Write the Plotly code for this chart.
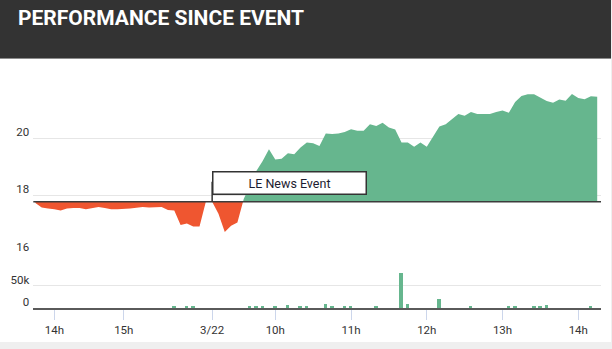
import plotly.graph_objects as go

# ---------------- data ----------------
day1_times = ["03/21 13:45", "03/21 13:50", "03/21 13:55", "03/21 14:00", "03/21 14:05",
              "03/21 14:10", "03/21 14:15", "03/21 14:20", "03/21 14:25", "03/21 14:30",
              "03/21 14:35", "03/21 14:40", "03/21 14:50", "03/21 14:55", "03/21 15:00",
              "03/21 15:05", "03/21 15:10", "03/21 15:15", "03/21 15:20", "03/21 15:25",
              "03/21 15:30", "03/21 15:35", "03/21 15:40", "03/21 15:45", "03/21 15:50",
              "03/21 15:55", "03/21 16:00", "03/21 16:05"]
day2_times = [f"03/22 {(550 + 5 * k) // 60:02d}:{(550 + 5 * k) % 60:02d}" for k in range(62)]
times = day1_times + day2_times

prices = [17.73, 17.58, 17.54, 17.52, 17.47, 17.54, 17.56, 17.56, 17.52, 17.56,
          17.59, 17.56, 17.52, 17.52, 17.52, 17.54, 17.57, 17.59, 17.58, 17.58,
          17.59, 17.49, 17.47, 16.97, 17.02, 16.91, 16.91, 17.78,
          17.78, 17.36, 16.72, 16.94, 17.05, 17.87, 18.33, 18.85, 19.20, 19.61,
          19.25, 19.28, 19.47, 19.43, 19.67, 19.84, 19.82, 19.72, 20.16, 20.14,
          20.16, 20.21, 20.31, 20.25, 20.25, 20.48, 20.42, 20.53, 20.37, 20.30,
          19.84, 19.84, 19.70, 19.84, 19.70, 20.05, 20.40, 20.48, 20.65, 20.84,
          20.78, 20.91, 20.84, 20.84, 20.84, 20.91, 20.96, 20.88, 21.26, 21.47,
          21.53, 21.53, 21.40, 21.29, 21.23, 21.34, 21.30, 21.54, 21.40, 21.35,
          21.46, 21.44]

volume_times = ["03/21 15:40", "03/21 15:50", "03/21 15:55", "03/22 09:40", "03/22 09:45",
                "03/22 09:50", "03/22 10:00", "03/22 10:10", "03/22 10:20", "03/22 10:25",
                "03/22 10:40", "03/22 10:45", "03/22 10:55", "03/22 11:00", "03/22 11:20",
                "03/22 11:40", "03/22 11:45", "03/22 12:10", "03/22 12:35", "03/22 13:05",
                "03/22 13:10", "03/22 13:25", "03/22 13:30", "03/22 13:35", "03/22 14:10"]
volumes = [5000, 3000, 3000, 3000, 5000,
           3000, 3000, 7000, 3000, 3000,
           9000, 3000, 3000, 3000, 3000,
           78000, 9000, 21000, 3000, 3000,
           3000, 4000, 3000, 7000, 3000]

event_time = "03/22 09:10"
event_label = "LE News Event"
title_text = "PERFORMANCE SINCE EVENT"

tick_times = ["03/21 14:00", "03/21 15:00", "03/22 09:10", "03/22 10:00",
              "03/22 11:00", "03/22 12:00", "03/22 13:00", "03/22 14:00"]
tick_labels = ["14h", "15h", "3/22", "10h", "11h", "12h", "13h", "14h"]

price_ticks = [16, 18, 20, 22]
price_tick_labels = ["16", "18", "20", ""]
vol_ticks = [0, 50000, 100000]
vol_tick_labels = ["0", "50k", ""]

# ---------------- styling ----------------
GREEN = "#66b68e"
RED = "#ef5630"
FONT = "Roboto, Arial, sans-serif"
W, H = 612, 349

pos = {t: i for i, t in enumerate(times)}
xs = [pos[t] for t in times]
event_x = pos[event_time]
threshold = prices[event_x]

# split the area at the threshold (insert crossing points)
sx, sy = [], []
for i in range(len(xs)):
    if i > 0:
        y0, y1 = prices[i - 1], prices[i]
        if (y0 - threshold) * (y1 - threshold) < 0:
            f = (threshold - y0) / (y1 - y0)
            sx.append(xs[i - 1] + f * (xs[i] - xs[i - 1]))
            sy.append(threshold)
    sx.append(xs[i])
    sy.append(prices[i])
upper = [max(v, threshold) for v in sy]
lower = [min(v, threshold) for v in sy]
base = [threshold] * len(sx)

fig = go.Figure()
common = dict(mode="lines", line=dict(width=0), hoverinfo="skip", showlegend=False,
              xaxis="x", yaxis="y")
fig.add_trace(go.Scatter(x=sx, y=base, **common))
fig.add_trace(go.Scatter(x=sx, y=upper, fill="tonexty", fillcolor=GREEN, **common))
fig.add_trace(go.Scatter(x=sx, y=base, **common))
fig.add_trace(go.Scatter(x=sx, y=lower, fill="tonexty", fillcolor=RED, **common))

fig.add_trace(go.Bar(x=[pos[t] for t in volume_times], y=volumes, width=0.55,
                     marker=dict(color=GREEN, line=dict(width=0)),
                     xaxis="x2", yaxis="y2", showlegend=False, hoverinfo="skip"))

x_left, x_right = 33.3, 601.0
px_per = 6.3125
first_px = 35.4
xr = [-(first_px - x_left) / px_per, (x_right - first_px) / px_per]
xdom = [x_left / W, x_right / W]


def ydom(top_px, bottom_px):
    return [1 - bottom_px / H, 1 - top_px / H]


axis_font = dict(family=FONT, size=11.5, color="#333333")

fig.update_layout(
    width=W, height=H,
    margin=dict(l=0, r=0, t=0, b=0),
    paper_bgcolor="#efefef",
    plot_bgcolor="rgba(0,0,0,0)",
    bargap=0,
    xaxis=dict(domain=xdom, range=xr, anchor="y", showgrid=False, zeroline=False,
               showticklabels=False, showline=False, ticks="", matches="x2"),
    yaxis=dict(domain=ydom(80.7, 252.7), range=[16, 22], anchor="x",
               tickvals=price_ticks, ticktext=price_tick_labels,
               showgrid=True, gridcolor="#e6e6e6", gridwidth=1, zeroline=False,
               ticks="", tickfont=axis_font, ticklabelshift=-6, ticklabelstandoff=3),
    xaxis2=dict(domain=xdom, range=xr, anchor="y2", showgrid=False, zeroline=False,
                tickvals=[pos[t] for t in tick_times], ticktext=tick_labels,
                showline=True, linecolor="#5a5a5a", linewidth=2,
                ticks="outside", ticklen=10, tickwidth=1, tickcolor="#ccd6eb",
                tickfont=axis_font),
    yaxis2=dict(domain=ydom(263.3, 308.3), range=[0, 100000], anchor="x2",
                tickvals=vol_ticks, ticktext=vol_tick_labels,
                showgrid=True, gridcolor="#e6e6e6", gridwidth=1, zeroline=False,
                ticks="", tickfont=axis_font, ticklabelshift=-6, ticklabelstandoff=3),
)

shapes = [
    # white panel
    dict(type="rect", xref="paper", yref="paper", x0=0, x1=611 / W, y0=1 - 342 / H, y1=1,
         fillcolor="white", line=dict(width=0), layer="below"),
    # dark header
    dict(type="rect", xref="paper", yref="paper", x0=0, x1=611 / W, y0=1 - 58 / H, y1=1,
         fillcolor="#333333", line=dict(width=0), layer="below"),
    dict(type="line", xref="paper", yref="paper", x0=0, x1=611 / W,
         y0=1 - 58.5 / H, y1=1 - 58.5 / H, line=dict(color="#8c8c8c", width=1), layer="below"),
    # threshold (event price) line
    dict(type="line", xref="paper", yref="y", x0=xdom[0], x1=xdom[1],
         y0=threshold, y1=threshold, line=dict(color="#3c3c3c", width=1.5), layer="above"),
    # event flag pole
    dict(type="line", xref="x", yref="y", x0=event_x, x1=event_x,
         ysizemode="pixel", yanchor=threshold, y0=0, y1=20,
         line=dict(color="#333333", width=1.5), layer="above"),
]
fig.update_layout(shapes=shapes)

fig.add_annotation(x=16 / W, y=1 - 18 / H, xref="paper", yref="paper",
                   xanchor="left", yanchor="middle", showarrow=False,
                   text=f"<b>{title_text}</b>",
                   font=dict(family=FONT, size=21, color="white"))
fig.add_annotation(x=event_x, y=threshold, xref="x", yref="y",
                   xanchor="left", yanchor="bottom", yshift=6.5, showarrow=False,
                   text=event_label, align="center",
                   width=148, height=17, borderpad=2,
                   bgcolor="white", bordercolor="#333333", borderwidth=1.5,
                   font=dict(family=FONT, size=12.5, color="#1c1c30"))

fig.write_html("out.html")
